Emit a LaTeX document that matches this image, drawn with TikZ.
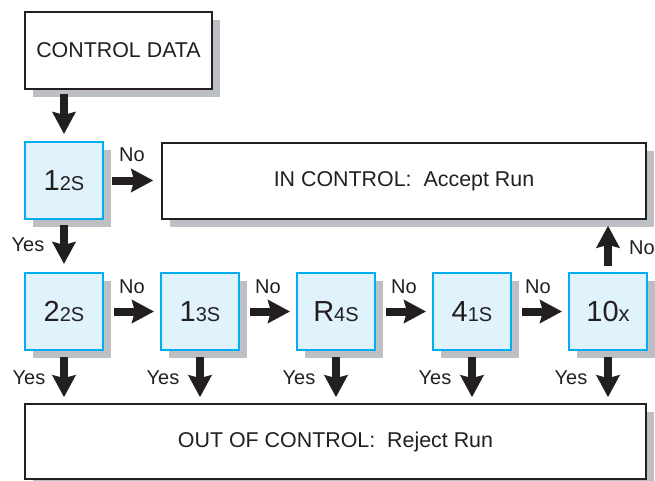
\documentclass[tikz,border=0pt]{standalone}
\usepackage{fontspec}
\setmainfont{Liberation Sans}
\usetikzlibrary{arrows.meta,shadows}
\definecolor{ink}{HTML}{231F20}
\definecolor{cyanb}{HTML}{00AEEF}
\definecolor{lightb}{HTML}{E0F2FC}
\definecolor{shade}{HTML}{BCC0C4}
\newcommand\bigc[1]{{\fontsize{29}{29}\selectfont #1}}
\newcommand\smc[1]{{\fontsize{20}{20}\selectfont #1}}
\begin{document}
\begin{tikzpicture}[x=1pt,y=-1pt,
 shad/.style={drop shadow={shadow xshift=8pt,shadow yshift=-8pt,fill=shade,opacity=1}},
 whitebox/.style={draw=ink,line width=1.5pt,fill=white,inner sep=0pt,shad,text=ink,font=\fontsize{21.4}{21.4}\selectfont},
 rulebox/.style={draw=cyanb,line width=2pt,fill=lightb,inner sep=0pt,minimum width=78pt,minimum height=77pt,shad,text=ink},
 arr/.style={draw=ink,line width=8pt,-{Stealth[length=22pt,width=23pt,inset=3pt]}},
 lbl/.style={text=ink,font=\fontsize{20}{20}\selectfont,inner sep=0pt}]
\useasboundingbox (0,0) rectangle (655,481);
% boxes
\node[whitebox,minimum width=187pt,minimum height=77pt] (cd) at (118.5,50.5) {CONTROL DATA};
\node[rulebox] (r1) at (64,180.5) {\bigc{1}\smc{2S}};
\node[whitebox,minimum width=484pt,minimum height=76pt] (in) at (404,181) {IN CONTROL:\ \ Accept Run\hspace{12pt}};
\node[rulebox] (r2) at (64,311.5) {\bigc{2}\smc{2S}};
\node[rulebox] (r3) at (200,311.5) {\bigc{1}\smc{3S}};
\node[rulebox] (r4) at (336,311.5) {\bigc{R}\smc{4S}};
\node[rulebox] (r5) at (472,311.5) {\bigc{4}\smc{1S}};
\node[rulebox] (r6) at (608,311.5) {\bigc{10}{\fontsize{22}{22}\selectfont x}};
\node[whitebox,minimum width=621pt,minimum height=75pt] (out) at (335.5,441.5) {OUT OF CONTROL:\ \ Reject Run};
% connectors
\draw[arr,shorten <=4pt,shorten >=7pt] (cd.south -| r1.north) -- (r1.north);
\draw[arr,shorten <=8pt,shorten >=8pt] (r1.east) -- (r1.east -| in.west);
\draw[arr,shorten <=5pt,shorten >=8pt] (r1.south) -- (r2.north);
\draw[arr,shorten <=10pt,shorten >=6pt] (r2.east) -- (r3.west);
\draw[arr,shorten <=10pt,shorten >=6pt] (r3.east) -- (r4.west);
\draw[arr,shorten <=10pt,shorten >=6pt] (r4.east) -- (r5.west);
\draw[arr,shorten <=10pt,shorten >=6pt] (r5.east) -- (r6.west);
\foreach \r in {r2,r3,r4,r5,r6}
  \draw[arr,shorten <=6pt,shorten >=6pt] (\r.south) -- (\r.south |- out.north);
\draw[arr,shorten <=6pt,shorten >=6pt] (r6.north) -- (r6.north |- in.south);
% labels
\node[lbl] (n1) at (132,155) {No};
\node[lbl] (y1) at (28,245) {Yes};
\node[lbl] (n2) at (132,287) {No};
\node[lbl] (n3) at (268,287) {No};
\node[lbl] (n4) at (404,287) {No};
\node[lbl] (n5) at (538,287) {No};
\node[lbl] (n6) at (642,248) {No};
\node[lbl] (y2) at (29,378) {Yes};
\node[lbl] (y3) at (163,378) {Yes};
\node[lbl] (y4) at (299,378) {Yes};
\node[lbl] (y5) at (435,378) {Yes};
\node[lbl] (y6) at (571,378) {Yes};
\end{tikzpicture}
\end{document}
